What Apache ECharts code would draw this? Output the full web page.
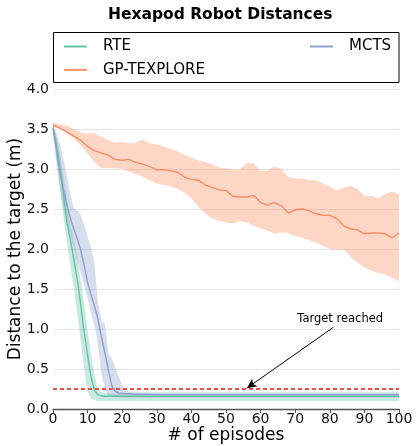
<!DOCTYPE html>
<html>
<head>
<meta charset="utf-8">
<script src="https://cdn.jsdelivr.net/npm/echarts@6/dist/echarts.min.js"></script>
<style>html,body{margin:0;padding:0;background:#fff}#c{width:417px;height:446px}</style>
</head>
<body>
<div id="c"></div>
<script>
// ---- data ----
const fastEpisodes = [0,1,2,3,4,5,6,7,8,9,10,11,12,13,14,15,16,17,18,19,20,21,22,23,24,30,40,50,60,70,80,90,100];
const rteMean = [3.52,3.30,3.02,2.70,2.33,2.12,1.88,1.62,1.31,0.96,0.67,0.40,0.23,0.18,0.165,0.16,0.16,0.16,0.16,0.16,0.16,0.16,0.16,0.16,0.16,0.16,0.16,0.16,0.16,0.16,0.16,0.16,0.16];
const rteLow  = [3.48,3.15,2.80,2.40,2.10,1.80,1.52,1.20,0.85,0.50,0.22,0.13,0.11,0.10,0.10,0.10,0.10,0.10,0.10,0.10,0.10,0.10,0.10,0.10,0.10,0.10,0.10,0.10,0.10,0.10,0.10,0.10,0.10];
const rteHigh = [3.55,3.42,3.18,2.92,2.62,2.30,2.12,1.90,1.62,1.32,0.98,0.68,0.42,0.25,0.21,0.20,0.195,0.195,0.195,0.195,0.195,0.195,0.195,0.195,0.195,0.195,0.195,0.195,0.195,0.195,0.195,0.195,0.195];
const mctsMean = [3.51,3.23,2.95,2.75,2.56,2.39,2.25,2.13,1.99,1.80,1.58,1.43,1.29,1.12,0.90,0.70,0.49,0.29,0.22,0.20,0.195,0.19,0.19,0.185,0.185,0.18,0.18,0.18,0.18,0.18,0.18,0.18,0.18];
const mctsLow  = [3.48,3.05,2.75,2.50,2.32,2.17,2.02,1.86,1.70,1.55,1.38,1.20,1.05,0.80,0.45,0.24,0.16,0.15,0.145,0.14,0.14,0.14,0.14,0.14,0.14,0.14,0.14,0.14,0.14,0.14,0.14,0.14,0.14];
const mctsHigh = [3.55,3.44,3.32,3.12,2.92,2.68,2.51,2.48,2.43,2.30,2.15,2.02,1.80,1.33,1.10,1.07,0.70,0.63,0.52,0.40,0.30,0.24,0.22,0.215,0.21,0.21,0.21,0.21,0.21,0.21,0.21,0.21,0.21];

const gpEpisodes = [0,2,4,6,8,10,12,14,16,18,20,22,24,26,28,30,32,34,36,38,40,42,44,46,48,50,52,54,56,58,60,62,64,66,68,70,72,74,76,78,80,82,84,86,88,90,92,94,96,98,100];
const gpMean = [3.55,3.51,3.46,3.41,3.36,3.28,3.23,3.20,3.17,3.12,3.11,3.12,3.08,3.06,3.03,2.99,2.99,2.98,2.96,2.90,2.87,2.86,2.80,2.77,2.74,2.73,2.66,2.65,2.65,2.67,2.58,2.55,2.58,2.54,2.45,2.49,2.50,2.48,2.44,2.42,2.42,2.38,2.29,2.25,2.24,2.19,2.20,2.20,2.19,2.14,2.20];
const gpHigh = [3.58,3.56,3.54,3.50,3.46,3.44,3.45,3.40,3.36,3.33,3.34,3.32,3.33,3.37,3.32,3.31,3.28,3.25,3.22,3.18,3.14,3.11,3.09,3.06,3.02,3.01,2.99,2.99,3.08,3.07,2.98,2.98,3.03,3.00,2.90,2.88,2.88,2.86,2.86,2.82,2.78,2.73,2.77,2.79,2.75,2.66,2.67,2.63,2.69,2.72,2.68];
const gpLow  = [3.53,3.50,3.46,3.38,3.29,3.20,3.08,3.01,3.01,3.01,3.00,2.97,2.94,2.90,2.86,2.82,2.80,2.78,2.75,2.70,2.63,2.53,2.44,2.38,2.35,2.33,2.32,2.35,2.33,2.29,2.26,2.23,2.19,2.21,2.20,2.16,2.14,2.11,2.08,2.04,2.00,1.99,1.99,1.90,1.83,1.77,1.73,1.70,1.68,1.64,1.59];

const targetDistance = 0.25;
const annotationText = 'Target reached';
const arrowFrom = [81, 1.02];
const arrowTo = [56, 0.26];
const textAt = [83, 1.125];

// ---- chart ----
const FONT = 'DejaVu Sans';
const C_RTE = '#66c2a5', C_GP = '#fc8d62', C_MCTS = '#8da0cb';

function zip(xs, ys){ return xs.map((x,i)=>[x, ys[i]]); }
function band(name, xs, lo, hi, color){
  const data = xs.map((x,i)=>[x, lo[i], hi[i]]);
  return {
    type:'custom', name:name, data:data, silent:true, z:1,
    encode:{x:0, y:[1,2]},
    renderItem:function(params, api){
      if (params.dataIndex !== 0) return null;
      const top = data.map(d=>api.coord([d[0], d[2]]));
      const bot = data.map(d=>api.coord([d[0], d[1]])).reverse();
      return {type:'polygon', shape:{points: top.concat(bot)}, style:{fill: color, opacity: 0.36}};
    }
  };
}
function line(name, xs, ys, color){
  return {type:'line', name:name, data:zip(xs, ys), color:color, showSymbol:false, symbol:'none',
    lineStyle:{color:color, width:1.4}, z:3, animation:false};
}

const legendText = {fontSize:15, fontFamily:FONT, color:'#000', lineHeight:18, padding:[0,0,0,11]};
const chart = echarts.init(document.getElementById('c'), null, {renderer:'canvas'});
chart.setOption({
  animation:false,
  backgroundColor:'#fff',
  title:{text:'Hexapod Robot Distances', left:103, top:1.5,
    textStyle:{fontFamily:FONT, fontWeight:'bold', fontSize:15.5, color:'#000', lineHeight:17}},
  graphic:[{type:'rect', shape:{x:53.5, y:32.5, width:345.5, height:50}, style:{fill:'#fff', stroke:'#000', lineWidth:1}, z:10}],
  legend:[
    {data:['RTE','GP-TEXPLORE'], orient:'vertical', left:59, top:32.5, itemGap:5.4, itemWidth:23, itemHeight:2, icon:'rect', textStyle:legendText, z:11},
    {data:['MCTS'], orient:'vertical', left:305, top:32.5, itemWidth:23, itemHeight:2, icon:'rect', textStyle:legendText, z:11}
  ],
  grid:{left:53, right:18, top:89, bottom:37, containLabel:false, outerBoundsMode:'none'},
  xAxis:{type:'value', min:0, max:100, interval:10,
    name:'# of episodes', nameLocation:'middle', nameGap:18, nameMoveOverlap:false,
    nameTextStyle:{fontFamily:FONT, fontSize:17, color:'#000'},
    axisLine:{show:true, lineStyle:{color:'#555', width:1.3}},
    axisTick:{show:true, length:4, lineStyle:{color:'#555'}},
    axisLabel:{fontFamily:FONT, fontSize:14, color:'#111', margin:3},
    splitLine:{show:false}},
  yAxis:{type:'value', min:0, max:4, interval:0.5,
    name:'Distance to the target (m)', nameLocation:'middle', nameGap:29, nameMoveOverlap:false,
    nameTextStyle:{fontFamily:FONT, fontSize:17, color:'#000'},
    axisLine:{show:false}, axisTick:{show:false},
    axisLabel:{fontFamily:FONT, fontSize:14, color:'#111', margin:4, formatter:v=>v.toFixed(1)},
    splitLine:{show:true, lineStyle:{color:'#e6e6e6', width:1}}},
  series:[
    band('GP band', gpEpisodes, gpLow, gpHigh, C_GP),
    band('RTE band', fastEpisodes, rteLow, rteHigh, C_RTE),
    band('MCTS band', fastEpisodes, mctsLow, mctsHigh, C_MCTS),
    line('RTE', fastEpisodes, rteMean, C_RTE),
    line('GP-TEXPLORE', gpEpisodes, gpMean, C_GP),
    line('MCTS', fastEpisodes, mctsMean, C_MCTS),
    {type:'line', name:'target', data:[[0,targetDistance],[100,targetDistance]], showSymbol:false, symbol:'none', z:4,
      lineStyle:{color:'#f24b4b', width:2, type:[4,3]},
      markLine:{silent:true, symbol:['none','arrow'], symbolSize:[7,10], animation:false,
        lineStyle:{color:'#000', width:1, type:'solid'}, label:{show:false},
        data:[[{coord:arrowFrom},{coord:arrowTo}]]},
      markPoint:{silent:true, symbol:'rect', symbolSize:1, itemStyle:{color:'rgba(0,0,0,0)'},
        label:{show:true, formatter:annotationText, position:'inside', fontFamily:FONT, fontSize:11.5, color:'#000'},
        data:[{coord:textAt}]}
    }
  ]
});
</script>
</body>
</html>
